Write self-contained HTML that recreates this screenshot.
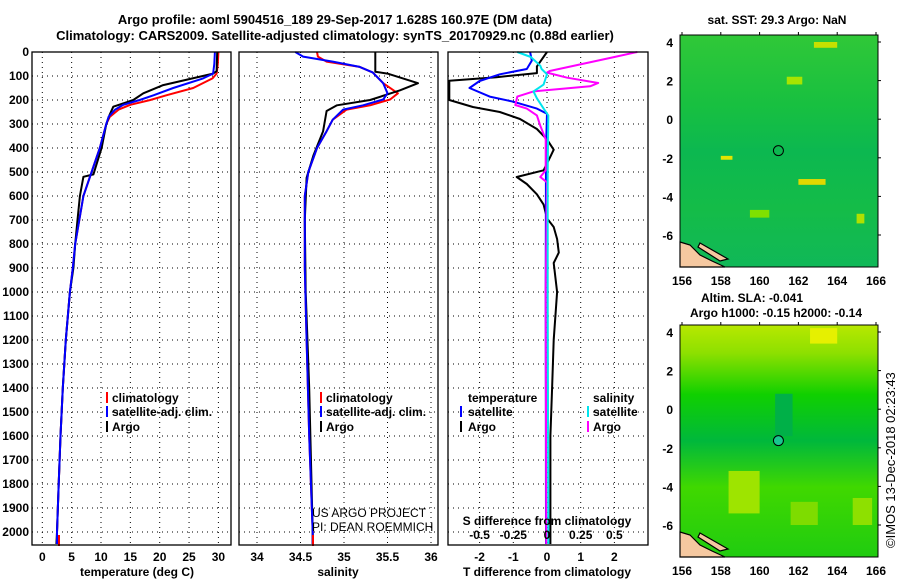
<!DOCTYPE html>
<html><head><meta charset="utf-8">
<style>
html,body{margin:0;padding:0;background:#fff;}
svg{display:block;font-family:"Liberation Sans",Arial,sans-serif;}
.t{font-weight:bold;font-size:13px;}
.tk{font-weight:bold;font-size:12px;}
</style></head><body>
<svg id="c" width="900" height="580" viewBox="0 0 900 580">
<text class="t" x="335" y="24" text-anchor="middle">Argo profile: aoml 5904516_189 29-Sep-2017 1.628S 160.97E (DM data)</text>
<text class="t" x="335" y="40" text-anchor="middle">Climatology: CARS2009. Satellite-adjusted climatology: synTS_20170929.nc (0.88d earlier)</text>
</svg>
<script>
// ---------- data ----------
const tDepth=[0,50,90,110,150,180,200,220,240,270,300,400,500,600,700,800,900,1000,1200,1400,1600,1800,2000,2050];
const tClim=[30,29.9,29.7,29.0,25.7,21.2,18.4,15.0,13.0,11.5,10.9,9.8,8.4,7.0,6.3,5.6,5.2,4.7,4.0,3.5,3.1,2.8,2.5,2.5];
const tSat=[29.4,29.3,29.1,27.4,22.3,19.0,16.6,13.8,12.4,11.3,10.9,9.8,8.4,7.0,6.3,5.6,5.2,4.7,4.0,3.5,3.1,2.8,2.5,2.5];
const argoTDepth=[0,80,90,138,172,200,228,260,300,400,510,520,600,700,800,900,1000,1200,1400,1600,1800,2000,2050];
const argoT=[29.8,29.7,29.1,20.6,17.2,15.5,12.1,11.5,10.9,10.1,8.7,7.0,6.4,6.0,5.6,5.3,4.7,4.0,3.5,3.1,2.8,2.5,2.4];
const sDepth=[0,19,40,62,85,130,172,198,222,240,282,330,400,500,600,700,900,1200,1600,2000,2050];
const sClim=[34.69,34.70,34.8,35.18,35.33,35.45,35.62,35.53,35.3,35.03,34.87,34.8,34.69,34.59,34.55,34.55,34.55,34.57,34.6,34.64,34.64];
const sSat=[34.44,34.53,34.87,35.18,35.33,35.45,35.5,35.45,35.22,34.99,34.87,34.8,34.69,34.59,34.55,34.55,34.55,34.57,34.6,34.64,34.64];
const argoSDepth=[0,82,90,130,160,200,222,246,330,430,524,700,1000,1400,2000,2050];
const argoS=[35.36,35.36,35.5,35.85,35.64,35.3,34.92,34.8,34.76,34.65,34.57,34.55,34.56,34.6,34.64,34.64];
const dTArgoDepth=[0,60,88,105,120,150,200,229,250,279,321,364,407,436,493,521,550,593,636,693,729,779,836,879,1000,1200,1400,1600,1800,2000,2050];
const dTArgo=[0,-0.3,-0.3,-1.5,-2.9,-2.9,-2.9,-2.2,-1.4,-0.8,-0.3,0,0.2,0.1,-0.1,-0.9,-0.6,-0.3,-0.1,0,0.2,0.3,0.35,0.2,0.3,0.2,0.15,0.1,0.1,0.1,0.1];
const dTSatDepth=[0,36,71,93,121,150,186,207,236,257,400,1000,2000,2050];
const dTSat=[-0.5,-0.45,-0.6,-1.4,-2.0,-2.3,-1.7,-1.0,-0.3,0,-0.03,-0.04,-0.03,-0.03];
const dSArgoDepth=[0,21,79,86,107,129,143,164,186,221,236,264,307,364,493,521,543,1000,2000,2050];
const dSArgo=[0.67,0.5,0.02,0,0.15,0.38,0.32,-0.1,-0.22,-0.235,-0.15,-0.075,-0.05,-0.01,-0.01,-0.05,0,-0.01,-0.005,-0.005];
const dSSatDepth=[0,21,57,71,93,136,164,193,236,264,500,1000,2000,2050];
const dSSat=[-0.22,-0.12,-0.05,-0.04,0,-0.025,-0.1,-0.075,-0.025,0.01,0.005,0.005,0.01,0.01];
const depthTicks=[0,100,200,300,400,500,600,700,800,900,1000,1100,1200,1300,1400,1500,1600,1700,1800,1900,2000];
const tempTicks=[0,5,10,15,20,25,30];
const salTicks=[34,34.5,35,35.5,36];
const salTickLabels=['34','34.5','35','35.5','36'];
const dTTicks=[-2,-1,0,1,2];
const dSTicks=[-0.5,-0.25,0,0.25,0.5];
const dSTickLabels=['-0.5','-0.25','0','0.25','0.5'];
const lonTicks=[156,158,160,162,164,166];
const latTicks=[4,2,0,-2,-4,-6];

// ---------- helpers ----------
const NS='http://www.w3.org/2000/svg';
const svg=document.getElementById('c');
function mk(tag,attrs,parent,text){const e=document.createElementNS(NS,tag);for(const k in attrs)e.setAttribute(k,attrs[k]);if(text!==undefined)e.textContent=text;(parent||svg).appendChild(e);return e;}
const Y0=52,YK=0.24,YB=545;
const yD=d=>Y0+d*YK;
const xT=t=>42.3+t*5.87;
const xS=s=>257+(s-34)*87;
const xDT=v=>547+v*33.7;
const xDS=v=>547+v*134.8;

function panel(name,x0,x1,showY){
  const g=mk('g',{},svg);
  
  
  depthTicks.forEach(d=>{
    const y=yD(d);
    const l=mk('line',{x1:x0,x2:x1,y1:y,y2:y,stroke:'#000','stroke-width':1,'stroke-dasharray':'1,4'},g);
    
    
    if(showY){
      const t=mk('text',{x:29,y:y+4,'text-anchor':'end',class:'tk'},g,String(d));
      
      
    }
  });
  return g;
}
function vgrid(g,xs,fx){xs.forEach(v=>{const l=mk('line',{x1:fx(v),x2:fx(v),y1:Y0,y2:YB,stroke:'#000','stroke-dasharray':'1,4'},g);
  
  });}
function frame(g,x0,x1){const r=mk('rect',{x:x0,y:Y0,width:x1-x0,height:YB-Y0,fill:'none',stroke:'#000','stroke-width':1.3},g);
  
  }
function line(g,xs,ds,fx,color,name,x0,x1){
  const pts=xs.map((v,i)=>Math.max(x0,Math.min(x1,fx(v))).toFixed(1)+','+yD(ds[i]).toFixed(1)).join(' ');
  const p=mk('polyline',{points:pts,fill:'none',stroke:color,'stroke-width':2,'stroke-linejoin':'round'},g);
  
  
}
function xlab(g,vals,labels,fx,y){vals.forEach((v,i)=>{const t=mk('text',{x:fx(v),y:y,'text-anchor':'middle',class:'tk'},g,labels?labels[i]:String(v));
  
  });}
function txt(g,x,y,s,name,anchor,cls){const t=mk('text',{x:x,y:y,'text-anchor':anchor||'start',class:cls||'tk'},g,s);
  
  return t;}
function legMark(g,x,y,color,name){const r=mk('rect',{x:x,y:y-10,width:2,height:11,fill:color},g);
  
  }

// ---------- panel 1: temperature ----------
let g1=panel('temperature-panel',32,231,true);
vgrid(g1,tempTicks,xT);
line(g1,tClim,tDepth,xT,'#ff0000','climatology-temperature-line',32,231);
line(g1,argoT,argoTDepth,xT,'#000000','argo-temperature-line',32,231);
line(g1,tSat,tDepth,xT,'#0000ff','satellite-temperature-line',32,231);
legMark(g1,58,YB,'#ff0000','climatology-bottom-marker');
frame(g1,32,231);
xlab(g1,tempTicks,null,xT,561);
txt(g1,137,576,'temperature (deg C)','x-axis-title-temperature','middle');
legMark(g1,106,402,'#ff0000','legend-marker-climatology');txt(g1,112,402,'climatology','legend-climatology');
legMark(g1,106,416,'#0000ff','legend-marker-satellite');txt(g1,112,416,'satellite-adj. clim.','legend-satellite');
legMark(g1,106,431,'#000','legend-marker-argo');txt(g1,112,431,'Argo','legend-argo');

// ---------- panel 2: salinity ----------
let g2=panel('salinity-panel',239,438,false);
vgrid(g2,salTicks,xS);
line(g2,sClim,sDepth,xS,'#ff0000','climatology-salinity-line',239,438);
line(g2,argoS,argoSDepth,xS,'#000000','argo-salinity-line',239,438);
line(g2,sSat,sDepth,xS,'#0000ff','satellite-salinity-line',239,438);
legMark(g2,312,YB,'#ff0000','climatology-salinity-bottom-marker');
frame(g2,239,438);
xlab(g2,salTicks,salTickLabels,xS,561);
txt(g2,338,576,'salinity','x-axis-title-salinity','middle');
legMark(g2,320,402,'#ff0000','legend-marker-climatology');txt(g2,326,402,'climatology','legend-climatology');
legMark(g2,320,416,'#0000ff','legend-marker-satellite');txt(g2,326,416,'satellite-adj. clim.','legend-satellite');
legMark(g2,320,431,'#000','legend-marker-argo');txt(g2,326,431,'Argo','legend-argo');
let c1=txt(g2,312,517,'US ARGO PROJECT','credit-project');c1.setAttribute('class','');c1.setAttribute('font-size','12');
let c2=txt(g2,312,531,'PI: DEAN ROEMMICH','credit-pi');c2.setAttribute('class','');c2.setAttribute('font-size','12');

// ---------- panel 3: differences ----------
let g3=panel('difference-panel',448,648,false);
vgrid(g3,dTTicks,xDT);
line(g3,dTArgo,dTArgoDepth,xDT,'#000000','argo-temperature-difference-line',448,648);
line(g3,dTSat,dTSatDepth,xDT,'#0000ff','satellite-temperature-difference-line',448,648);
line(g3,dSArgo,dSArgoDepth,xDS,'#ff00ff','argo-salinity-difference-line',448,648);
line(g3,dSSat,dSSatDepth,xDS,'#00e5ee','satellite-salinity-difference-line',448,648);
frame(g3,448,648);
txt(g3,547,525,'S difference from climatology','s-diff-axis-title','middle');
xlab(g3,dSTicks,dSTickLabels,xDS,539);
xlab(g3,dTTicks,null,xDT,561);
txt(g3,547,576,'T difference from climatology','t-diff-axis-title','middle');
txt(g3,468,402,'temperature','legend-temperature-header');
legMark(g3,460,416,'#0000ff','legend-marker-t-satellite');txt(g3,468,416,'satellite','legend-t-satellite');
legMark(g3,460,431,'#000','legend-marker-t-argo');txt(g3,468,431,'Argo','legend-t-argo');
txt(g3,593,402,'salinity','legend-salinity-header');
legMark(g3,587,416,'#00e5ee','legend-marker-s-satellite');txt(g3,593,416,'satellite','legend-s-satellite');
legMark(g3,587,431,'#ff00ff','legend-marker-s-argo');txt(g3,593,431,'Argo','legend-s-argo');

// ---------- maps ----------
const xLon=l=>682+(l-156)*19.4;
function map(name,top,bot,lat4y,grad,patches,dotFill){
  const g=mk('g',{},svg);
  
  
  const yLat=la=>lat4y+(4-la)*19.3;
  const id=name+'-grad';
  const defs=mk('defs',{},g);
  const lg=mk('linearGradient',{id:id,x1:0,y1:0,x2:0,y2:1},defs);
  grad.forEach(s=>mk('stop',{offset:s[0],'stop-color':s[1]},lg));
  const bg=mk('rect',{x:680,y:top,width:198,height:bot-top,fill:'url(#'+id+')'},g);
  
  
  patches.forEach(p=>{const r=mk('rect',{x:xLon(p[0]),y:yLat(p[1]),width:p[2]*19.4,height:p[3]*19.3,fill:p[4]},g);
    
    });
  const land=mk('path',{d:`M680 ${bot-25} L690 ${bot-22} L700 ${bot-12} L712 ${bot-6} L725 ${bot} L680 ${bot} Z M700 ${bot-24} L728 ${bot-8} L720 ${bot-6} L698 ${bot-20} Z`,fill:'#f5c8a0',stroke:'#000','stroke-width':1.2},g);
  
  
  const ci=mk('circle',{cx:xLon(160.97),cy:yLat(-1.628),r:5,fill:dotFill,stroke:'#000','stroke-width':1},g);
  
  
  const fr=mk('rect',{x:680,y:top,width:198,height:bot-top,fill:'none',stroke:'#000'},g);
  
  
  lonTicks.forEach(l=>{mk('line',{x1:xLon(l),x2:xLon(l),y1:top-3,y2:top,stroke:'#000'},g);
    const t=mk('text',{x:xLon(l),y:bot+18,'text-anchor':'middle',class:'tk','font-size':'13'},g,String(l));
    
    });
  latTicks.forEach(la=>{mk('line',{x1:878,x2:881,y1:yLat(la),y2:yLat(la),stroke:'#000'},g);
    const t=mk('text',{x:673,y:yLat(la)+5,'text-anchor':'end',class:'tk','font-size':'13'},g,String(la));
    
    });
  return g;
}
map('sst-map',35,267,42,[[0,'#30c838'],[0.3,'#18c040'],[0.5,'#0cb850'],[0.75,'#14bc48'],[1,'#10b858']],
 [[162.8,4,1.2,0.3,'#c8e000'],[161.4,2.2,0.8,0.4,'#a8e400'],[162.0,-3.1,1.4,0.3,'#e0d800'],[158.0,-1.9,0.6,0.2,'#e4e400'],
  [159.5,-4.7,1,0.4,'#80e000'],[165,-4.9,0.4,0.5,'#b0e000']],'none');
map('sla-map',325,557,332,[[0,'#b8e800'],[0.12,'#8ee000'],[0.3,'#10d000'],[0.5,'#00b83c'],[0.7,'#40d800'],[1,'#20cc10']],
 [[162.6,4.2,1.4,0.8,'#e6f000'],[158.4,-3.2,1.6,2.2,'#9ee400'],[161.6,-4.8,1.4,1.2,'#7edc00'],[164.8,-4.6,1,1.4,'#8ee000'],[160.8,0.8,0.9,2.2,'#00b048']],'#18c890');
txt(svg,777,24,'sat. SST: 29.3 Argo: NaN','sst-map-title','middle');
txt(svg,752,302,'Altim. SLA: -0.041','sla-map-title','middle');
txt(svg,776,317,'Argo h1000: -0.15 h2000: -0.14','argo-height-label','middle');
const cr=mk('text',{x:0,y:0,'font-size':'13',transform:'translate(895,548) rotate(-90)'},svg,'©IMOS 13-Dec-2018 02:23:43');


</script>
</body></html>
